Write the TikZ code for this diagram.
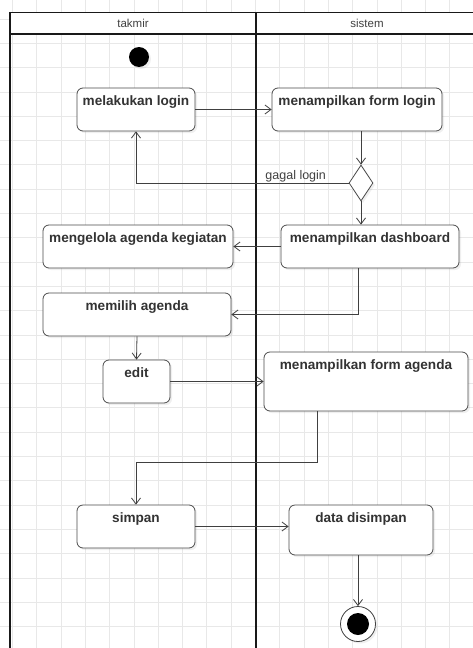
\documentclass[tikz,border=0pt]{standalone}
\usepackage{fontspec}
\setmainfont{Liberation Sans}
\usetikzlibrary{arrows.meta, calc, shapes.geometric, shadows}

\begin{document}
\begin{tikzpicture}[
  x=1pt, y=-1pt,
  gridline/.style={draw=black!9, line width=0.8pt},
  lane/.style={draw=black!90, line width=1.7pt},
  head/.style={font=\fontsize{11.5}{13}\selectfont, text=black!75, inner sep=1pt},
  act/.style={draw=black!70, fill=white, rounded corners=6pt, line width=0.8pt, inner sep=0pt,
    drop shadow={shadow xshift=2pt, shadow yshift=-2pt, opacity=0.12}},
  txt/.style={anchor=base, yshift=-17.5pt, inner sep=0pt, text=black!80,
    font=\fontsize{13.6}{15}\selectfont\bfseries},
  lbl/.style={font=\fontsize{12.5}{14}\selectfont, text=black!75, inner sep=1pt},
  arr/.style={-{Straight Barb[length=6pt, width=9pt]}, draw=black!75, line width=0.8pt}
]
\useasboundingbox (0,0) rectangle (473,648);
\clip (0,0) rectangle (473,648);
\fill[white] (0,0) rectangle (473,648);

% grid
\foreach \i in {0,...,19} {
  \draw[gridline] ({12.4+24.3*\i},0) -- ({12.4+24.3*\i},648);
}
\foreach \j in {0,...,26} {
  \draw[gridline] (0,{19+24.3*\j}) -- (473,{19+24.3*\j});
}

% swimlanes
\fill[white] (10,12.5) rectangle (520,34);
\draw[lane] (10,660) -- (10,12.5) -- (520,12.5);
\draw[lane] (10,34) -- (520,34);
\draw[lane] (256,12.5) -- (256,660);
\node[head] (takmir) at (133,23) {takmir};
\node[head] (sistem) at (367,23) {sistem};

% nodes
\node[circle, fill=black, minimum size=20pt, inner sep=0pt,
  drop shadow={shadow xshift=2pt, shadow yshift=-2pt, opacity=0.12}] (start) at (139,57) {};
\node[act, minimum width=118pt, minimum height=43pt, label={[txt]north:melakukan login}] (login) at (136,109.5) {};
\node[act, minimum width=170pt, minimum height=43pt, label={[txt]north:menampilkan form login}] (flogin) at (357,109.5) {};
\node[diamond, draw=black!70, fill=white, line width=0.8pt, inner sep=0pt, minimum width=24pt, minimum height=36pt,
  drop shadow={shadow xshift=2pt, shadow yshift=-2pt, opacity=0.12}] (dia) at (361,183) {};
\node[act, minimum width=190pt, minimum height=43pt, label={[txt]north:mengelola agenda kegiatan}] (keg) at (138,246.5) {};
\node[act, minimum width=178pt, minimum height=43pt, label={[txt]north:menampilkan dashboard}] (dash) at (370,246.5) {};
\node[act, minimum width=188pt, minimum height=43pt, label={[txt]north:memilih agenda}] (pilih) at (137,314.5) {};
\node[act, minimum width=67pt, minimum height=43pt, label={[txt]north:edit}] (edit) at (136.5,381.5) {};
\node[act, minimum width=204pt, minimum height=59pt, label={[txt]north:menampilkan form agenda}] (formag) at (366,381.5) {};
\node[act, minimum width=118pt, minimum height=43pt, label={[txt]north:simpan}] (simpan) at (136,526.5) {};
\node[act, minimum width=144pt, minimum height=50pt, label={[txt]north:data disimpan}] (datas) at (361,530) {};
\node[circle, draw=black!75, fill=white, line width=0.8pt, minimum size=35pt, inner sep=0pt,
  drop shadow={shadow xshift=2pt, shadow yshift=-2pt, opacity=0.12}] (fin) at (358,624) {};
\node[circle, fill=black, minimum size=22pt, inner sep=0pt] (finin) at (fin) {};

% flows
\draw[arr] (login) -- (flogin);
\draw[arr] (flogin.south -| dia.north) -- (dia.north);
\draw[arr] (dia.west) -| (login.south)
  node[pos=0.05, anchor=south east, lbl] {gagal login};
\draw[arr] (dia.south) -- (dia.south |- dash.north);
\draw[arr] (dash.west) -- (keg.east);
\draw[arr] ($(dash.south)+(-12,0)$) |- (pilih.east);
\draw[arr] (pilih.south) -- (edit.north);
\draw[arr] (edit) -- (formag);
\draw[arr] ($(formag.south)+(-49,0)$) -- ++(0,51) -| (simpan.north);
\draw[arr] (simpan.east) -- (simpan.east -| datas.west);
\draw[arr] (datas.south -| fin.north) -- (fin.north);
\end{tikzpicture}
\end{document}
